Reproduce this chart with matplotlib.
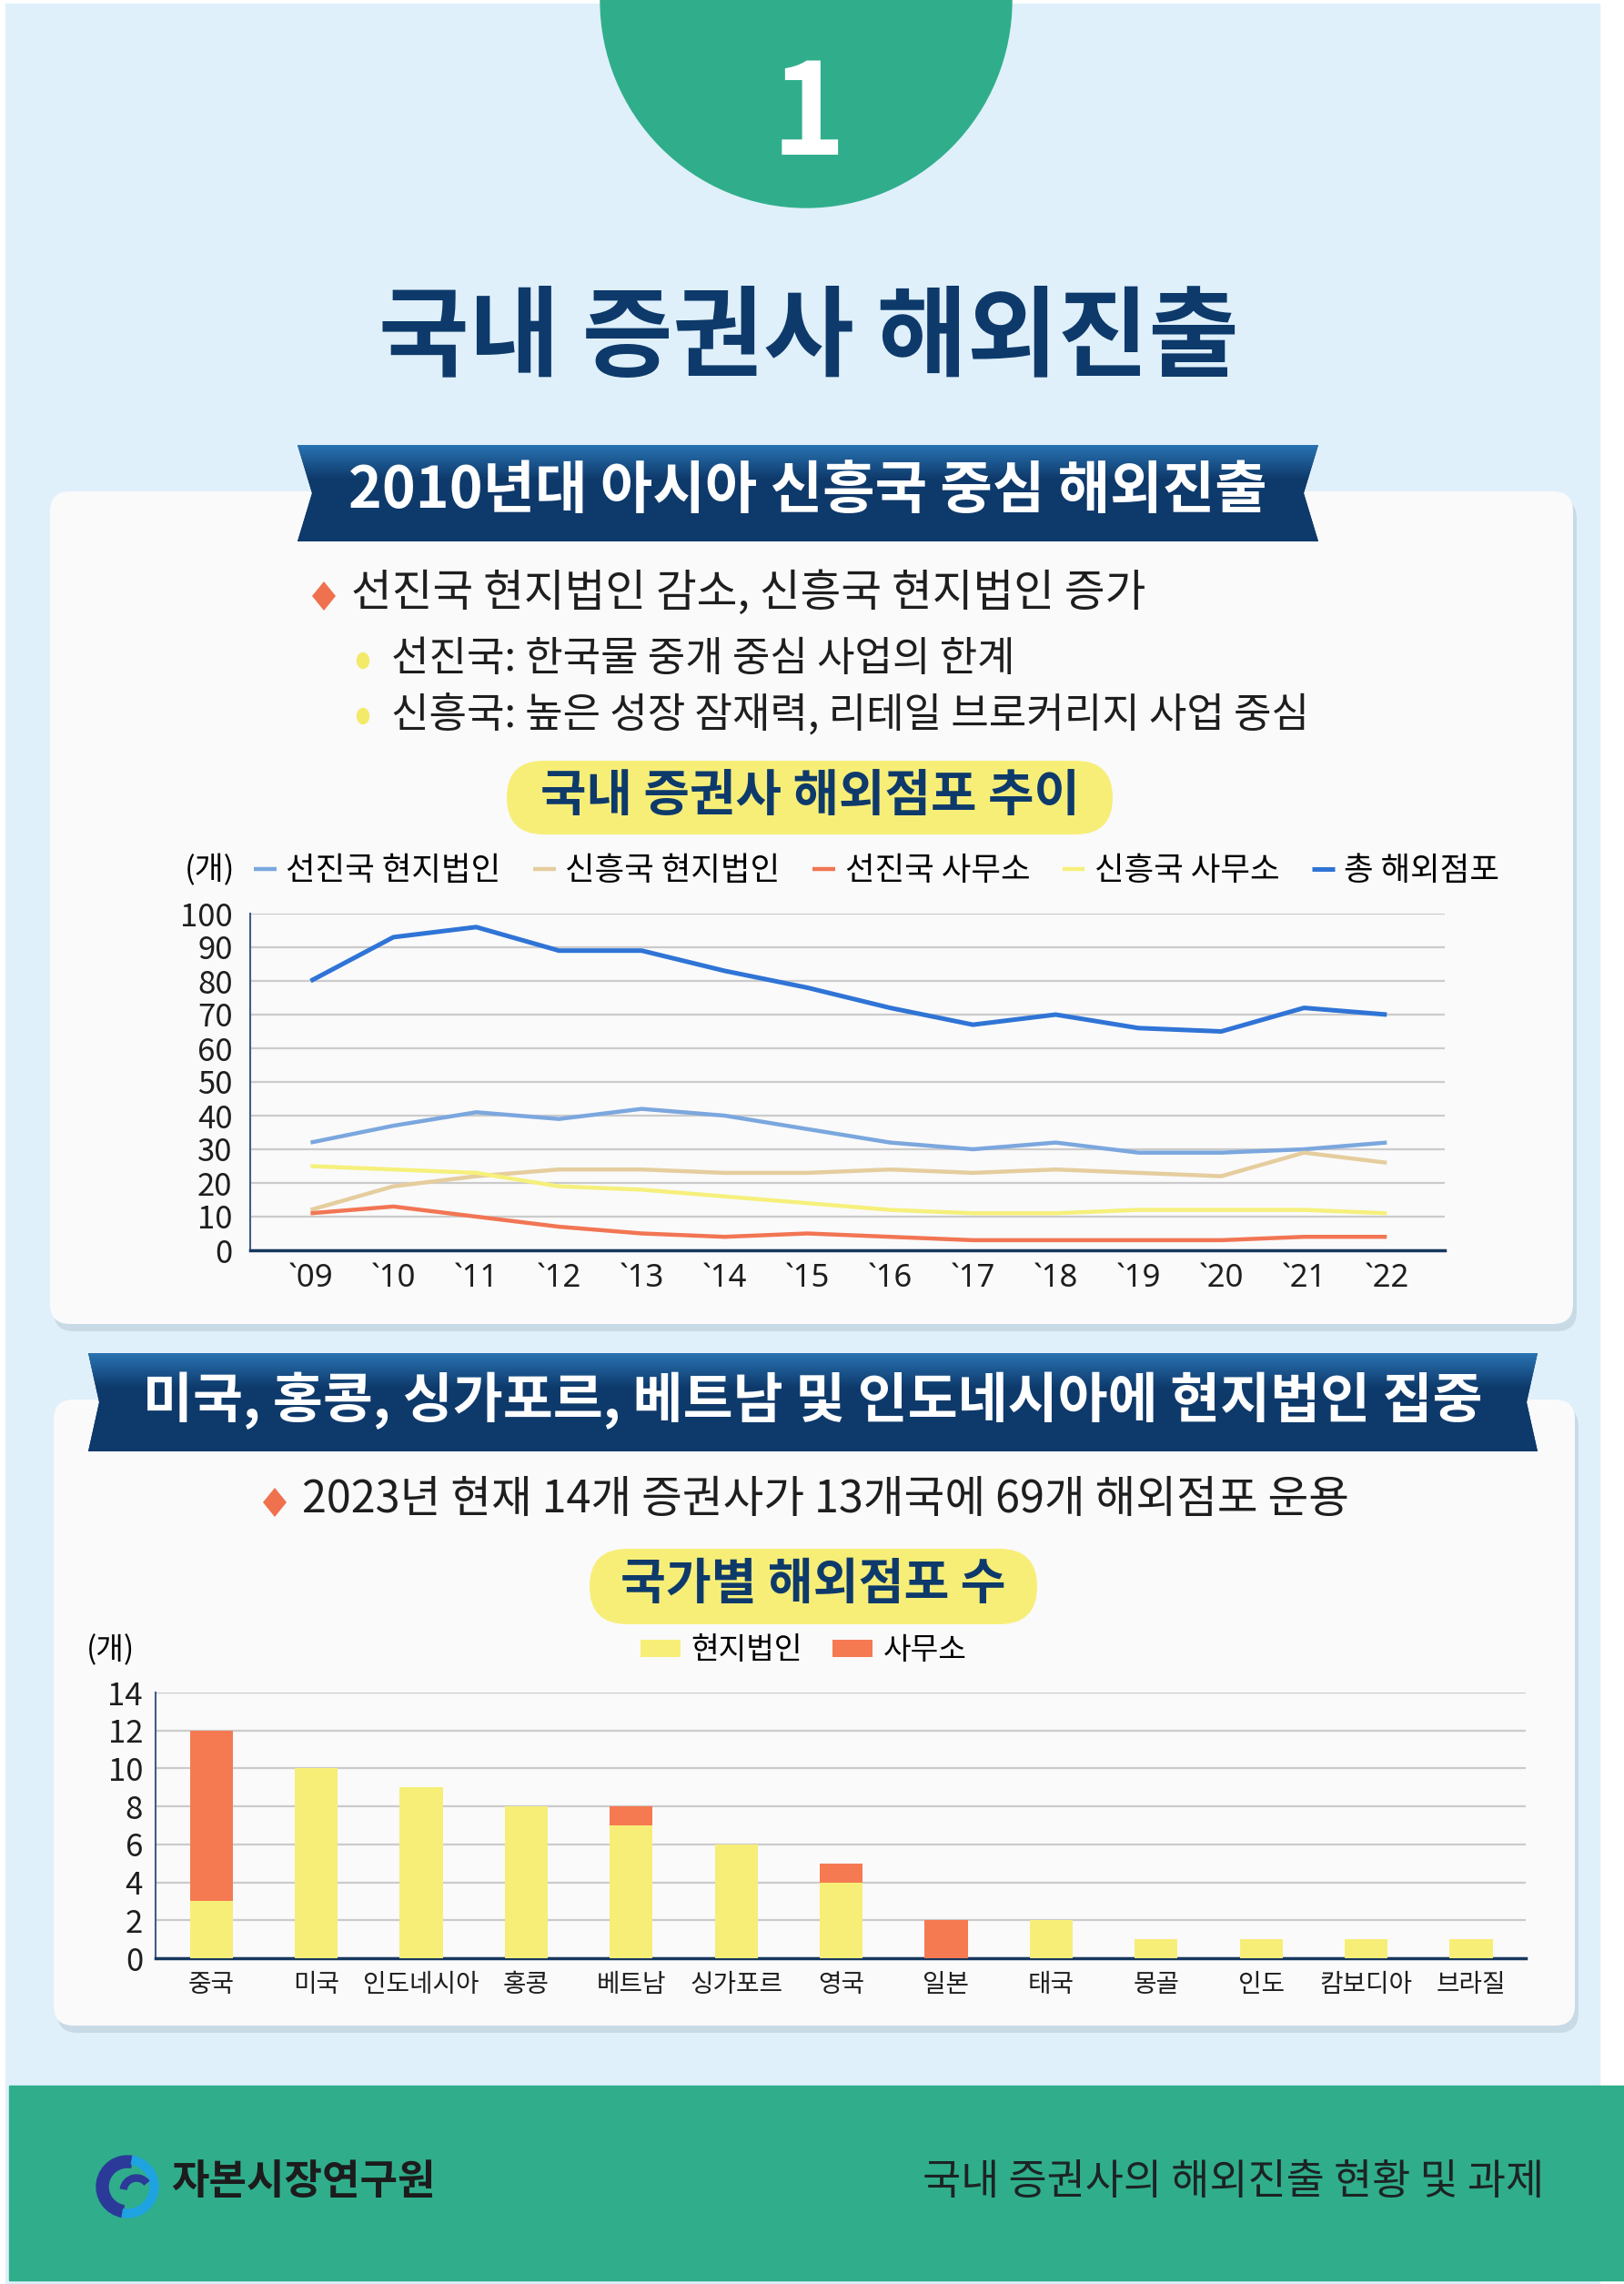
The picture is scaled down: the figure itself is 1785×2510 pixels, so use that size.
import matplotlib
matplotlib.use("Agg")
import matplotlib.pyplot as plt
import numpy as np
from matplotlib.patches import FancyBboxPatch, Polygon, Ellipse, Rectangle, Wedge

plt.rcParams['font.family'] = ['Noto Sans CJK KR', 'DejaVu Sans']

W, H = 1785, 2510

# ---- data: line chart (domestic brokers' overseas branches) ----
years = ["`09", "`10", "`11", "`12", "`13", "`14", "`15", "`16", "`17", "`18", "`19", "`20", "`21", "`22"]
adv_sub = [32, 37, 41, 39, 42, 40, 36, 32, 30, 32, 29, 29, 30, 32]
emg_sub = [12, 19, 22, 24, 24, 23, 23, 24, 23, 24, 23, 22, 29, 26]
adv_off = [11, 13, 10, 7, 5, 4, 5, 4, 3, 3, 3, 3, 4, 4]
emg_off = [25, 24, 23, 19, 18, 16, 14, 12, 11, 11, 12, 12, 12, 11]
total = [80, 93, 96, 89, 89, 83, 78, 72, 67, 70, 66, 65, 72, 70]
line_names = ["선진국 현지법인", "신흥국 현지법인", "선진국 사무소", "신흥국 사무소", "총 해외점포"]

# ---- data: bar chart (branches by country) ----
countries = ["중국", "미국", "인도네시아", "홍콩", "베트남", "싱가포르", "영국", "일본", "태국", "몽골", "인도", "캄보디아", "브라질"]
subsid = [3, 10, 9, 8, 7, 6, 4, 0, 2, 1, 1, 1, 1]
offices = [9, 0, 0, 0, 1, 0, 1, 2, 0, 0, 0, 0, 0]

NAVY = "#0E3A6B"
GREEN = "#30AE8C"
BG = "#DFF0FA"
YEL = "#F7EE78"
ORG = "#F57A52"


def ax_rect(x0, y0, x1, y1):
    return [x0 / W, 1 - y1 / H, (x1 - x0) / W, (y1 - y0) / H]


fig = plt.figure(figsize=(W / 100, H / 100), dpi=100)
fig.patch.set_facecolor("white")
bg = fig.add_axes([0, 0, 1, 1])
bg.set_xlim(0, W)
bg.set_ylim(H, 0)
bg.axis("off")

# background
bg.add_patch(Rectangle((6, 4), 1752, H, color=BG, zorder=0))

# top half-ellipse with number
bg.add_patch(Ellipse((886, 0), 452, 456, color=GREEN, zorder=1))
bg.text(889, 130, "1", color="white", fontsize=100, fontweight="bold",
        ha="center", va="center", zorder=2)

# main title
bg.text(889, 374, "국내 증권사 해외진출", color=NAVY, fontsize=78, fontweight="bold",
        ha="center", va="center")


def card(x0, y0, x1, y1):
    sh = FancyBboxPatch((x0 + 4, y0 + 8), x1 - x0, y1 - y0, boxstyle="round,pad=0,rounding_size=22",
                        fc="#B9CCDA", ec="none", alpha=0.6, zorder=1)
    bg.add_patch(sh)
    c = FancyBboxPatch((x0, y0), x1 - x0, y1 - y0, boxstyle="round,pad=0,rounding_size=22",
                       fc="#FAFAFA", ec="none", zorder=2)
    bg.add_patch(c)


def banner(x0, y0, x1, y1, notch, text, fs):
    ym = (y0 + y1) / 2
    pts = [(x0, y0), (x1, y0), (x1 - notch, ym), (x1, y1), (x0, y1), (x0 + notch, ym)]
    poly = Polygon(pts, closed=True, fc=NAVY, ec="none", zorder=3)
    bg.add_patch(poly)
    grad = np.linspace(0, 1, 100)[:, None]
    grad = np.clip(grad / 0.35, 0, 1)
    c_top = np.array([0.16, 0.45, 0.70])
    c_bot = np.array([0.055, 0.227, 0.42])
    img = c_top[None, None, :] * (1 - grad[:, :, None]) + c_bot[None, None, :] * grad[:, :, None]
    im = bg.imshow(img, extent=(x0, x1, y1, y0), origin="upper", aspect="auto", zorder=3)
    im.set_clip_path(poly)
    bg.text((x0 + x1) / 2, ym - 2, text, color="white", fontsize=fs, fontweight="bold",
            ha="center", va="center", zorder=4)


def pill(x0, y0, x1, y1, text, fs):
    h = y1 - y0
    p = FancyBboxPatch((x0, y0), x1 - x0, h, boxstyle="round,pad=0,rounding_size=%f" % (h / 2),
                       fc=YEL, ec="none", zorder=3)
    bg.add_patch(p)
    bg.text((x0 + x1) / 2, (y0 + y1) / 2 - 2, text, color=NAVY, fontsize=fs, fontweight="bold",
            ha="center", va="center", zorder=4)


def diamond(x, y):
    bg.add_patch(Polygon([(x, y - 16), (x + 13, y), (x, y + 16), (x - 13, y)], fc="#F0714E",
                         ec="none", zorder=4))


# ---- card 1 ----
card(55, 540, 1729, 1455)
banner(327, 489, 1449, 595, 16, "2010년대 아시아 신흥국 중심 해외진출", 45)
diamond(356, 655)
bg.text(386, 652, "선진국 현지법인 감소, 신흥국 현지법인 증가", fontsize=35, color="#1E1E1E",
        va="center", ha="left", zorder=4)
for yy, t in [(724, "선진국: 한국물 중개 중심 사업의 한계"),
              (785, "신흥국: 높은 성장 잠재력, 리테일 브로커리지 사업 중심")]:
    bg.add_patch(Ellipse((399, yy + 2), 13, 17, color="#F3EA6A", zorder=4))
    bg.text(430, yy, t, fontsize=32.5, color="#1E1E1E", va="center", ha="left", zorder=4)
pill(557, 836, 1223, 917, "국내 증권사 해외점포 추이", 39.5)

# ---- card 2 ----
card(59, 1538, 1731, 2226)
banner(97, 1487, 1690, 1595, 12, "미국, 홍콩, 싱가포르, 베트남 및 인도네시아에 현지법인 집중", 43)
diamond(302, 1651)
bg.text(332, 1648, "2023년 현재 14개 증권사가 13개국에 69개 해외점포 운용", fontsize=35,
        color="#1E1E1E", va="center", ha="left", zorder=4)
pill(648, 1702, 1140, 1785, "국가별 해외점포 수", 39)

# ---- footer ----
bg.add_patch(Rectangle((10, 2292), W - 10, 214, color=GREEN, zorder=1))
bg.add_patch(Wedge((140, 2403), 34, 100, 280, width=13, color="#2B3A98", zorder=2))
bg.add_patch(Wedge((140, 2403), 34, 280, 100, width=9, color="#1FA3E0", zorder=2))
bg.add_patch(Wedge((150, 2408), 18, 190, 320, width=7, color="#2B3A98", zorder=2))
bg.text(188, 2398, "자본시장연구원", fontsize=32.5, fontweight="bold", color="#1C1C1C",
        ha="left", va="center", zorder=3)
bg.text(1697, 2398, "국내 증권사의 해외진출 현황 및 과제", fontsize=33, color="#1C2424",
        ha="right", va="center", zorder=3)

# ---- line chart ----
ax = fig.add_axes(ax_rect(275, 1004, 1588, 1374))
ax.set_facecolor("none")
x = np.arange(len(years))
series = [adv_sub, emg_sub, adv_off, emg_off, total]
colors = ["#7BA7DE", "#E5CD9E", "#F27553", "#F6F07C", "#2F74D6"]
widths = [3.2, 3.2, 3.2, 3.2, 3.6]
for vals, c, lw, name in zip(series, colors, widths, line_names):
    ax.plot(x, vals, color=c, lw=lw, label=name, zorder=3, solid_capstyle="butt")
ax.set_xlim(-0.73, 13.7)
ax.set_ylim(0, 100)
ax.set_yticks(range(0, 101, 10))
ax.set_xticks(x)
ax.set_xticklabels(years, family=["Noto Sans", "DejaVu Sans"])
ax.yaxis.grid(True, color="#CBCBCB", lw=1.6, zorder=0)
ax.set_axisbelow(True)
for s in ["top", "right"]:
    ax.spines[s].set_visible(False)
ax.spines["left"].set_color("#3E5F8A")
ax.spines["left"].set_linewidth(1.5)
ax.spines["bottom"].set_color("#17375E")
ax.spines["bottom"].set_linewidth(2.5)
ax.tick_params(length=0, labelsize=25, colors="#1E1E1E")
ax.tick_params(axis="y", pad=14)
ax.tick_params(axis="x", pad=10)
ax.legend(loc="center left", bbox_to_anchor=(0.003, 1.127), ncol=5, frameon=False,
          fontsize=25.5, handlelength=0.7, handletextpad=0.3, columnspacing=1.0,
          borderaxespad=0, borderpad=0)
ax.text(-0.013, 1.127, "(개)", transform=ax.transAxes, fontsize=25, ha="right", va="center")

# ---- bar chart ----
bx = fig.add_axes(ax_rect(171, 1860, 1677, 2152))
bx.set_facecolor("none")
xb = np.arange(len(countries))
bx.bar(xb, subsid, width=0.41, color=YEL, label="현지법인", zorder=3)
bx.bar(xb, offices, width=0.41, bottom=subsid, color=ORG, label="사무소", zorder=3)
bx.set_xlim(-0.53, 12.52)
bx.set_ylim(0, 14)
bx.set_yticks(range(0, 15, 2))
bx.set_xticks(xb)
bx.set_xticklabels(countries)
bx.yaxis.grid(True, color="#CBCBCB", lw=1.6, zorder=0)
bx.set_axisbelow(True)
for s in ["top", "right"]:
    bx.spines[s].set_visible(False)
bx.spines["left"].set_color("#3E5F8A")
bx.spines["left"].set_linewidth(1.5)
bx.spines["bottom"].set_color("#17375E")
bx.spines["bottom"].set_linewidth(2.5)
bx.tick_params(length=0, colors="#1E1E1E")
bx.tick_params(axis="y", labelsize=25, pad=10)
bx.tick_params(axis="x", labelsize=20, pad=10)
bx.legend(loc="center", bbox_to_anchor=(0.473, 1.158), ncol=2, frameon=False, fontsize=24,
          handlelength=1.3, handleheight=0.5, handletextpad=0.35, columnspacing=1.0,
          borderaxespad=0, borderpad=0)
bx.text(-0.015, 1.158, "(개)", transform=bx.transAxes, fontsize=24, ha="right", va="center")

fig.savefig("out.png", dpi=100, facecolor=fig.get_facecolor())
